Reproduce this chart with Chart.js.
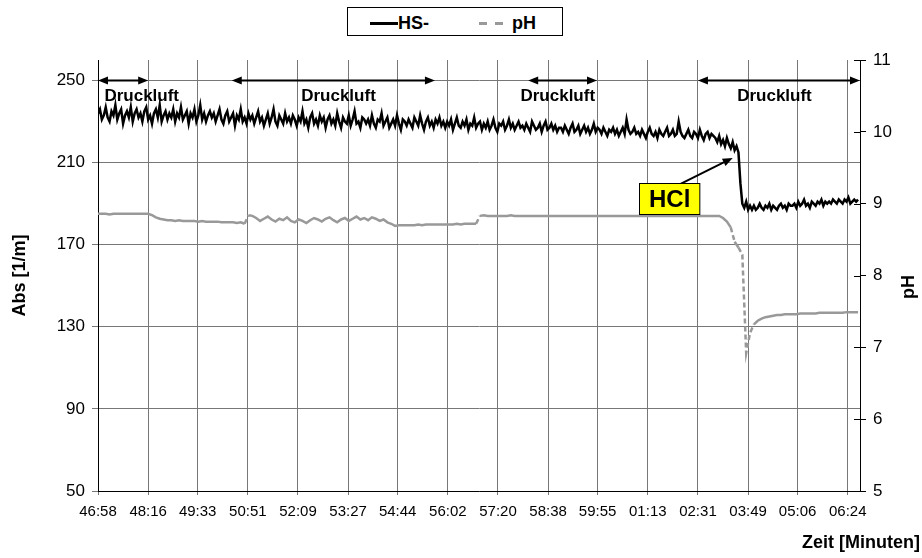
<!DOCTYPE html>
<html>
<head>
<meta charset="utf-8">
<title>HS- / pH</title>
<script src="https://cdn.jsdelivr.net/npm/chart.js@4/dist/chart.umd.min.js"></script>
<style>
	body { margin: 0; background: #fff; }
	.chart-wrap { position: relative; width: 922px; height: 558px; font-family: "Liberation Sans", Arial, sans-serif; }
	.legend { position: absolute; left: 347px; top: 7px; width: 216px; height: 29px; box-sizing: border-box; border: 1px solid #000; background: #fff; font-weight: bold; font-size: 18px; color: #000; }
	.legend .txt { position: absolute; top: 5px; line-height: 20px; }
	.legend .line { position: absolute; top: 14px; height: 3px; }
</style>
</head>
<body>
<div class="chart-wrap">
	<canvas id="chart" width="922" height="558"></canvas>
	<div class="legend">
		<div class="line" style="left:22px; width:28px; background:#000;"></div>
		<div class="txt" style="left:50px;">HS-</div>
		<div class="line" style="left:131px; width:8px; background:#999;"></div>
		<div class="line" style="left:147px; width:8px; background:#999;"></div>
		<div class="txt" style="left:164px;">pH</div>
	</div>
</div>
<script>
	// time in seconds after 46:58
	const hsStep = 3;	// HS- read every 3 s
	const phStep = 6;	// pH read every 6 s
	const tickSeconds = [0, 78, 155, 233, 311, 389, 466, 544, 622, 700, 777, 855, 933, 1011, 1088, 1166];
	const tickLabels = ["46:58", "48:16", "49:33", "50:51", "52:09", "53:27", "54:44", "56:02", "57:20", "58:38", "59:55", "01:13", "02:31", "03:49", "05:06", "06:24"];
	const absTicks = [50, 90, 130, 170, 210, 250];

	// HS- absorbance [1/m], one row = one minute
	const hsValues = [
		234, 236, 231, 233, 237, 232, 230, 235, 233, 238, 231, 234, 236, 229, 233, 235, 232, 237, 230, 234,
		236, 232, 234, 230, 235, 237, 231, 233, 229, 234, 236, 232, 238, 230, 233, 235, 231, 234, 232, 236,
		230, 234, 232, 237, 231, 233, 235, 229, 234, 232, 236, 230, 233, 238, 231, 234, 230, 233, 235, 232,
		234, 230, 233, 236, 231, 229, 233, 235, 230, 232, 234, 228, 233, 231, 236, 230, 232, 229, 234, 231,
		233, 229, 232, 235, 230, 232, 228, 231, 234, 229, 232, 236, 230, 228, 233, 231, 229, 234, 230, 232,
		229, 233, 231, 228, 232, 230, 235, 229, 231, 227, 232, 234, 229, 231, 228, 233, 230, 232, 227, 231,
		233, 229, 231, 228, 234, 230, 227, 232, 230, 229, 233, 228, 231, 235, 229, 230, 227, 232, 231, 229,
		231, 228, 233, 229, 227, 231, 230, 234, 228, 230, 232, 227, 229, 231, 228, 233, 229, 226, 231, 230,
		228, 231, 229, 227, 232, 230, 228, 233, 229, 226, 230, 232, 228, 230, 227, 231, 229, 232, 228, 230,
		227, 230, 228, 231, 226, 229, 232, 228, 227, 230, 228, 231, 226, 229, 228, 232, 227, 229, 230, 226,
		229, 227, 230, 226, 228, 231, 227, 225, 229, 228, 230, 226, 228, 231, 227, 229, 226, 228, 230, 227,
		228, 226, 229, 227, 225, 230, 228, 226, 227, 229, 225, 228, 230, 226, 227, 229, 226, 228, 225, 227,
		227, 225, 228, 226, 224, 227, 229, 225, 226, 228, 224, 226, 228, 225, 227, 224, 226, 229, 225, 227,
		226, 224, 227, 225, 223, 226, 225, 227, 224, 226, 223, 225, 227, 224, 231, 226, 224, 225, 227, 224,
		225, 223, 226, 224, 222, 225, 227, 224, 223, 225, 222, 226, 224, 223, 225, 227, 223, 224, 226, 223,
		224, 230, 225, 223, 222, 224, 226, 223, 222, 225, 224, 222, 226, 223, 221, 224, 225, 222, 224, 223,
		222, 220, 223, 219, 221, 218, 222, 219, 217, 220, 216, 218, 215, 200, 190, 188, 191, 187, 189, 187,
		189, 187, 188, 190, 188, 187, 189, 188, 190, 187, 189, 188, 187, 189, 190, 188, 189, 187, 190, 189,
		189, 190, 188, 191, 189, 190, 192, 189, 190, 188, 191, 190, 189, 191, 190, 192, 189, 191, 190, 191,
		190, 192, 191, 190, 192, 191, 190, 192, 191, 193, 190, 191, 192, 191, 192
	];

	// pH
	const phValues = [
		8.86, 8.86, 8.86, 8.85, 8.86, 8.86, 8.86, 8.86, 8.86, 8.86,
		8.86, 8.86, 8.86, 8.86, 8.84, 8.81, 8.79, 8.78, 8.77, 8.77,
		8.76, 8.77, 8.76, 8.76, 8.76, 8.76, 8.75, 8.76, 8.75, 8.75,
		8.75, 8.75, 8.74, 8.74, 8.74, 8.74, 8.73, 8.74, 8.72, 8.84,
		8.83, 8.80, 8.76, 8.79, 8.82, 8.78, 8.75, 8.79, 8.77, 8.81,
		8.76, 8.74, 8.78, 8.76, 8.73, 8.77, 8.80, 8.78, 8.75, 8.79,
		8.81, 8.77, 8.74, 8.78, 8.80, 8.76, 8.79, 8.82, 8.78, 8.80,
		8.77, 8.81, 8.79, 8.76, 8.78, 8.74, 8.72, 8.69, 8.70, 8.70,
		8.70, 8.70, 8.70, 8.71, 8.70, 8.71, 8.71, 8.71, 8.71, 8.71,
		8.71, 8.71, 8.71, 8.72, 8.71, 8.72, 8.72, 8.72, 8.72, 8.83,
		8.84, 8.83, 8.83, 8.83, 8.83, 8.83, 8.83, 8.84, 8.83, 8.83,
		8.83, 8.83, 8.83, 8.83, 8.83, 8.83, 8.83, 8.83, 8.83, 8.83,
		8.83, 8.83, 8.83, 8.83, 8.83, 8.83, 8.83, 8.83, 8.83, 8.83,
		8.83, 8.83, 8.83, 8.83, 8.83, 8.83, 8.83, 8.83, 8.83, 8.83,
		8.83, 8.83, 8.83, 8.83, 8.83, 8.83, 8.83, 8.83, 8.83, 8.83,
		8.83, 8.83, 8.83, 8.83, 8.83, 8.83, 8.83, 8.83, 8.83, 8.83,
		8.83, 8.83, 8.80, 8.75, 8.67, 8.47, 8.39, 8.29, 6.92, 7.20,
		7.32, 7.37, 7.40, 7.42, 7.43, 7.44, 7.45, 7.45, 7.46, 7.46,
		7.46, 7.46, 7.47, 7.47, 7.47, 7.47, 7.47, 7.48, 7.48, 7.48,
		7.48, 7.48, 7.48, 7.48, 7.49, 7.49, 7.49, 7.49
	];

	// "Druckluft" periods (seconds) and where the labels sit
	const druckluftFrom = [0, 208, 669, 933];
	const druckluftTo = [78, 524, 776, 1185];
	const druckluftLabelAt = [68, 374, 715, 1052];
	const druckluftLevel = 250;
	const druckluftLabelLevel = 242.5;

	// HCl note: label position and arrow (seconds, Abs)
	const hclLabel = [889, 192.3];
	const hclArrowFrom = [906, 199.6];
	const hclArrowTo = [987, 212.3];

	const FONT = '"Liberation Sans", Arial, sans-serif';

	// Function to draw a filled arrow head at (x2, y2)
	const arrowHead = (ctx, x1, y1, x2, y2) => {
		const a = Math.atan2(y2 - y1, x2 - x1);
		const len = 10, half = 4;
		ctx.beginPath();
		ctx.moveTo(x2, y2);
		ctx.lineTo(x2 - len * Math.cos(a) + half * Math.sin(a), y2 - len * Math.sin(a) - half * Math.cos(a));
		ctx.lineTo(x2 - len * Math.cos(a) - half * Math.sin(a), y2 - len * Math.sin(a) + half * Math.cos(a));
		ctx.closePath();
		ctx.fill();
	};

	const notesPlugin = {
		id: 'notes',
		afterDraw(chart) {
			const ctx = chart.ctx;
			const x = chart.scales.x, y = chart.scales.y, y1 = chart.scales.y1;
			ctx.save();
			ctx.strokeStyle = '#000';
			ctx.fillStyle = '#000';

			// inner tick marks of the pH axis
			ctx.lineWidth = 1;
			y1.ticks.forEach((t) => {
				const py = Math.round(y1.getPixelForValue(t.value)) + 0.5;
				ctx.beginPath();
				ctx.moveTo(y1.left - 6, py);
				ctx.lineTo(y1.left, py);
				ctx.stroke();
			});

			// Druckluft arrows
			ctx.lineWidth = 2;
			ctx.font = 'bold 17px ' + FONT;
			ctx.textAlign = 'center';
			ctx.textBaseline = 'middle';
			druckluftFrom.forEach((s, i) => {
				const xa = x.getPixelForValue(s), xb = x.getPixelForValue(druckluftTo[i]);
				const py = y.getPixelForValue(druckluftLevel);
				ctx.beginPath();
				ctx.moveTo(xa + 4, py);
				ctx.lineTo(xb - 4, py);
				ctx.stroke();
				arrowHead(ctx, xb, py, xa, py);
				arrowHead(ctx, xa, py, xb, py);
				ctx.fillText('Druckluft', x.getPixelForValue(druckluftLabelAt[i]), y.getPixelForValue(druckluftLabelLevel));
			});

			// HCl arrow
			const ax1 = x.getPixelForValue(hclArrowFrom[0]), ay1 = y.getPixelForValue(hclArrowFrom[1]);
			const ax2 = x.getPixelForValue(hclArrowTo[0]), ay2 = y.getPixelForValue(hclArrowTo[1]);
			const ang = Math.atan2(ay2 - ay1, ax2 - ax1);
			ctx.beginPath();
			ctx.moveTo(ax1, ay1);
			ctx.lineTo(ax2 - 5 * Math.cos(ang), ay2 - 5 * Math.sin(ang));
			ctx.stroke();
			arrowHead(ctx, ax1, ay1, ax2, ay2);

			// HCl box
			ctx.font = 'bold 24px ' + FONT;
			const cx = x.getPixelForValue(hclLabel[0]), cy = y.getPixelForValue(hclLabel[1]);
			const w = ctx.measureText('HCl').width + 19, h = 31;
			const bx = Math.round(cx - w / 2) + 0.5, by = Math.round(cy - h / 2) + 0.5;
			ctx.fillStyle = '#ffff00';
			ctx.fillRect(bx, by, w, h);
			ctx.lineWidth = 1;
			ctx.strokeRect(bx, by, w, h);
			ctx.fillStyle = '#000';
			ctx.fillText('HCl', cx, cy + 1);

			// right axis title, read bottom to top
			ctx.font = 'bold 18px ' + FONT;
			ctx.save();
			ctx.translate(909, 287);
			ctx.rotate(-Math.PI / 2);
			ctx.fillText('pH', 0, 0);
			ctx.restore();

			// x axis title at the right
			ctx.font = 'bold 18px ' + FONT;
			ctx.textAlign = 'right';
			ctx.fillText('Zeit [Minuten]', 920, 543);
			ctx.restore();
		}
	};

	const toPoints = (values, step) => values.map((v, i) => ({ x: i * step, y: v }));

	new Chart(document.getElementById('chart'), {
		type: 'line',
		data: {
			datasets: [{
				label: 'HS-',
				data: toPoints(hsValues, hsStep),
				yAxisID: 'y',
				borderColor: '#000',
				borderWidth: 2.5,
				pointRadius: 0,
				tension: 0
			}, {
				label: 'pH',
				data: toPoints(phValues, phStep),
				yAxisID: 'y1',
				borderColor: '#999',
				borderWidth: 2.5,
				pointRadius: 0,
				tension: 0,
				segment: {
					// long steps come out dashed, short ones look solid
					borderDash: (c) => Math.hypot(c.p1.x - c.p0.x, c.p1.y - c.p0.y) > 8 ? [5, 3] : undefined
				}
			}]
		},
		options: {
			responsive: false,
			animation: false,
			devicePixelRatio: 1,
			layout: { padding: { top: 60, left: 0, right: 0, bottom: 0 } },
			plugins: {
				legend: { display: false },
				tooltip: { enabled: false }
			},
			scales: {
				x: {
					type: 'linear',
					position: 'bottom',
					min: 0,
					max: 1185,
					afterBuildTicks: (axis) => { axis.ticks = tickSeconds.map((v) => ({ value: v })); },
					afterFit: (axis) => { axis.height = 67; },
					grid: { color: '#777', lineWidth: 1, tickLength: 4 },
					border: { color: '#000', width: 1 },
					ticks: {
						autoSkip: false,
						maxRotation: 0,
						padding: 8,
						color: '#000',
						font: { family: FONT, size: 15 },
						callback: (value, index) => tickLabels[index]
					}
				},
				y: {
					position: 'left',
					min: 50,
					max: 260,
					afterBuildTicks: (axis) => { axis.ticks = absTicks.map((v) => ({ value: v })); },
					afterFit: (axis) => { axis.width = 98; },
					grid: { color: '#777', lineWidth: 1, tickLength: 6 },
					border: { color: '#000', width: 1 },
					ticks: { padding: 7, color: '#000', font: { family: FONT, size: 17 } },
					title: {
						display: true,
						text: 'Abs [1/m]',
						color: '#000',
						font: { family: FONT, size: 18, weight: 'bold' },
						padding: { top: 9, bottom: 0 }
					}
				},
				y1: {
					position: 'right',
					min: 5,
					max: 11,
					ticks: { stepSize: 1, padding: 7, color: '#000', font: { family: FONT, size: 17 } },
					afterFit: (axis) => { axis.width = 62; },
					grid: { drawOnChartArea: false, color: '#000', tickLength: 6 },
					border: { color: '#000', width: 1 }
				}
			}
		},
		plugins: [notesPlugin]
	});
</script>
</body>
</html>
